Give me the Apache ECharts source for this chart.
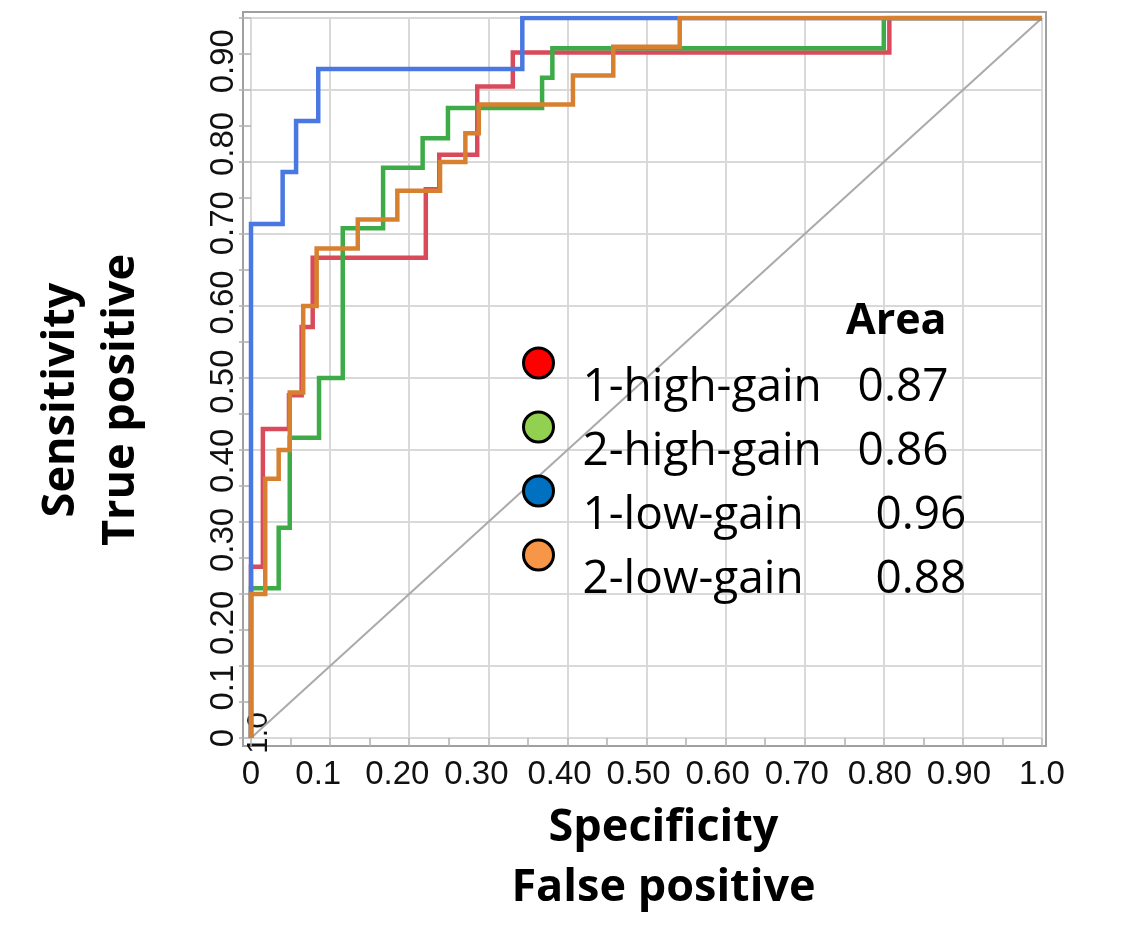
<!DOCTYPE html>
<html>
<head>
<meta charset="utf-8">
<title>ROC</title>
<script src="https://cdn.jsdelivr.net/npm/echarts@6/dist/echarts.min.js"></script>
<style>
html,body{margin:0;padding:0;background:#fff;}
#roc{width:1144px;height:930px;}
</style>
</head>
<body>
<div id="roc"></div>
<script>
var seriesNames = ['1-high-gain', '2-high-gain', '1-low-gain', '2-low-gain'];
var areaValues = ['0.87', '0.86', '0.96', '0.88'];
var lineColors = ['#d94b5b', '#3dab48', '#4a78e2', '#d68030'];
var dotColors = ['#ff0000', '#92d050', '#0070c0', '#f79646'];

// false positive rate where each step up happens / sensitivity reached
var redX = [0, 0.015, 0.048, 0.064, 0.078, 0.221, 0.238, 0.286, 0.331, 0.807];
var redY = [0.238, 0.429, 0.476, 0.571, 0.667, 0.762, 0.810, 0.905, 0.952, 1.0];
var greenX = [0, 0.035, 0.049, 0.086, 0.116, 0.167, 0.217, 0.249, 0.368, 0.381, 0.800];
var greenY = [0.208, 0.292, 0.417, 0.500, 0.708, 0.792, 0.833, 0.875, 0.917, 0.958, 1.0];
var blueX = [0, 0.040, 0.057, 0.085, 0.343];
var blueY = [0.714, 0.786, 0.857, 0.929, 1.0];
var orangeX = [0, 0.018, 0.035, 0.049, 0.066, 0.083, 0.135, 0.185, 0.239, 0.271, 0.288, 0.407, 0.458, 0.542];
var orangeY = [0.20, 0.36, 0.40, 0.48, 0.60, 0.68, 0.72, 0.76, 0.80, 0.84, 0.88, 0.92, 0.96, 1.0];

var diagonal = [[0, 0], [1, 1]];

// tick labels (the figure's labels do not sit exactly on the grid)
var xTickText = ['0', '0.1', '0.20', '0.30', '0.40', '0.50', '0.60', '0.70', '0.80', '0.90', '1.0'];
var xTickPos = [0, 0.085, 0.185, 0.285, 0.39, 0.49, 0.59, 0.69, 0.795, 0.895, 1.0];
var yTickText = ['0', '0.1', '0.20', '0.30', '0.40', '0.50', '0.60', '0.70', '0.80', '0.90'];
var yTickPos = [0, 0.07, 0.16, 0.275, 0.385, 0.495, 0.605, 0.715, 0.825, 0.94];

function rocPoints(xs, ys) {
	var pts = [[0, 0]];
	var prev = 0;
	for (var i = 0; i < xs.length; i++) {
		pts.push([xs[i], prev]);
		pts.push([xs[i], ys[i]]);
		prev = ys[i];
	}
	pts.push([1, prev]);
	return pts;
}

function labelAt(pos, text) {
	return function (v) {
		for (var i = 0; i < pos.length; i++) {
			if (Math.round(pos[i] * 1000) === Math.round(v * 1000)) return text[i];
		}
		return '';
	};
}

var curves = [rocPoints(redX, redY), rocPoints(greenX, greenY), rocPoints(blueX, blueY), rocPoints(orangeX, orangeY)];

var tickFont = {fontFamily: 'Liberation Sans Narrow, Liberation Sans, sans-serif', fontSize: 33, color: '#111'};
var titleFont = {fontFamily: 'Open Sans', fontWeight: 'bold', fontSize: 45, color: '#000', lineHeight: 60};

var series = [{
	name: 'diag',
	type: 'line',
	xAxisIndex: 1,
	yAxisIndex: 1,
	data: diagonal,
	symbol: 'none',
	silent: true,
	lineStyle: {color: '#aaaaaa', width: 2}
}];
for (var s = 0; s < seriesNames.length; s++) {
	series.push({
		name: seriesNames[s],
		type: 'line',
		xAxisIndex: 1,
		yAxisIndex: 1,
		data: curves[s],
		symbol: 'none',
		color: lineColors[s],
		lineStyle: {color: lineColors[s], width: 4.5, join: 'miter'}
	});
}

var legendData = [];
for (var k = 0; k < seriesNames.length; k++) {
	legendData.push({name: seriesNames[k], itemStyle: {color: dotColors[k], borderColor: '#000', borderWidth: 3}});
}

var myChart = echarts.init(document.getElementById('roc'));
var option = {
	animation: false,
	backgroundColor: '#fff',
	title: {
		text: 'Area',
		left: 841,
		top: 295,
		textStyle: {fontFamily: 'Open Sans', fontWeight: 'bold', fontSize: 43, color: '#000'}
	},
	legend: {
		orient: 'vertical',
		left: 517,
		top: 310,
		icon: 'circle',
		itemWidth: 30,
		itemHeight: 30,
		itemGap: -32,
		selectedMode: false,
		data: legendData,
		formatter: function (name) {
			var i = seriesNames.indexOf(name);
			var gap = name.indexOf('low') >= 0 ? '      ' : '   ';
			return '{t|' + name + gap + areaValues[i] + '}';
		},
		textStyle: {
			rich: {
				t: {fontFamily: 'Open Sans', fontSize: 46, color: '#000', lineHeight: 46, padding: [50, 0, 0, 24]}
			}
		}
	},
	grid: [
		// outer frame
		{left: 243, top: 12, right: 98, bottom: 184, show: true, borderColor: '#a0a0a0', borderWidth: 2, backgroundColor: 'transparent'},
		{left: 251, top: 18, right: 102, bottom: 192}
	],
	xAxis: [
		{gridIndex: 0, type: 'value', min: 0, max: 1, show: false},
		{
			gridIndex: 1, type: 'value', min: 0, max: 1, interval: 0.1, position: 'bottom', offset: 8,
			axisLine: {show: false},
			axisTick: {show: true, length: 8, lineStyle: {color: '#b0b0b0', width: 1.5}},
			minorTick: {show: true, splitNumber: 2, length: 8, lineStyle: {color: '#b0b0b0', width: 1.5}},
			axisLabel: {show: false},
			splitLine: {show: true, lineStyle: {color: '#d9d9d9', width: 2}},
			name: 'Specificity\nFalse positive',
			nameLocation: 'middle',
			nameGap: 52,
			nameTextStyle: Object.assign({padding: [0, 0, 0, 34]}, titleFont)
		},
		{
			gridIndex: 1, type: 'value', min: 0, max: 1, interval: 0.005, position: 'bottom', offset: 8,
			axisLine: {show: false}, axisTick: {show: false}, splitLine: {show: false},
			axisLabel: Object.assign({margin: 12, formatter: labelAt(xTickPos, xTickText)}, tickFont)
		}
	],
	yAxis: [
		{gridIndex: 0, type: 'value', min: 0, max: 1, show: false},
		{
			gridIndex: 1, type: 'value', min: 0, max: 1, interval: 0.1, position: 'left', offset: 8,
			axisLine: {show: false},
			axisTick: {show: true, length: 12, lineStyle: {color: '#b0b0b0', width: 1.5}},
			minorTick: {show: true, splitNumber: 2, length: 12, lineStyle: {color: '#b0b0b0', width: 1.5}},
			axisLabel: {show: false},
			splitLine: {show: true, lineStyle: {color: '#d9d9d9', width: 2}},
			name: 'Sensitivity\nTrue positive',
			nameLocation: 'middle',
			nameRotate: 90,
			nameGap: 92,
			nameTextStyle: Object.assign({padding: [0, 44, 0, 0]}, titleFont)
		},
		{
			gridIndex: 1, type: 'value', min: 0, max: 1, interval: 0.005, position: 'left', offset: 8,
			axisLine: {show: false}, axisTick: {show: false}, splitLine: {show: false},
			axisLabel: Object.assign({margin: 3, rotate: 90, formatter: labelAt(yTickPos, yTickText)}, tickFont)
		}
	],
	graphic: [{
		type: 'text',
		x: 259,
		y: 733,
		rotation: Math.PI / 2,
		style: {text: '1.0', fontFamily: 'Liberation Sans Narrow, Liberation Sans, sans-serif', fontSize: 30, fill: '#111', align: 'center', verticalAlign: 'middle'}
	}],
	series: series
};
myChart.setOption(option);
</script>
</body>
</html>
